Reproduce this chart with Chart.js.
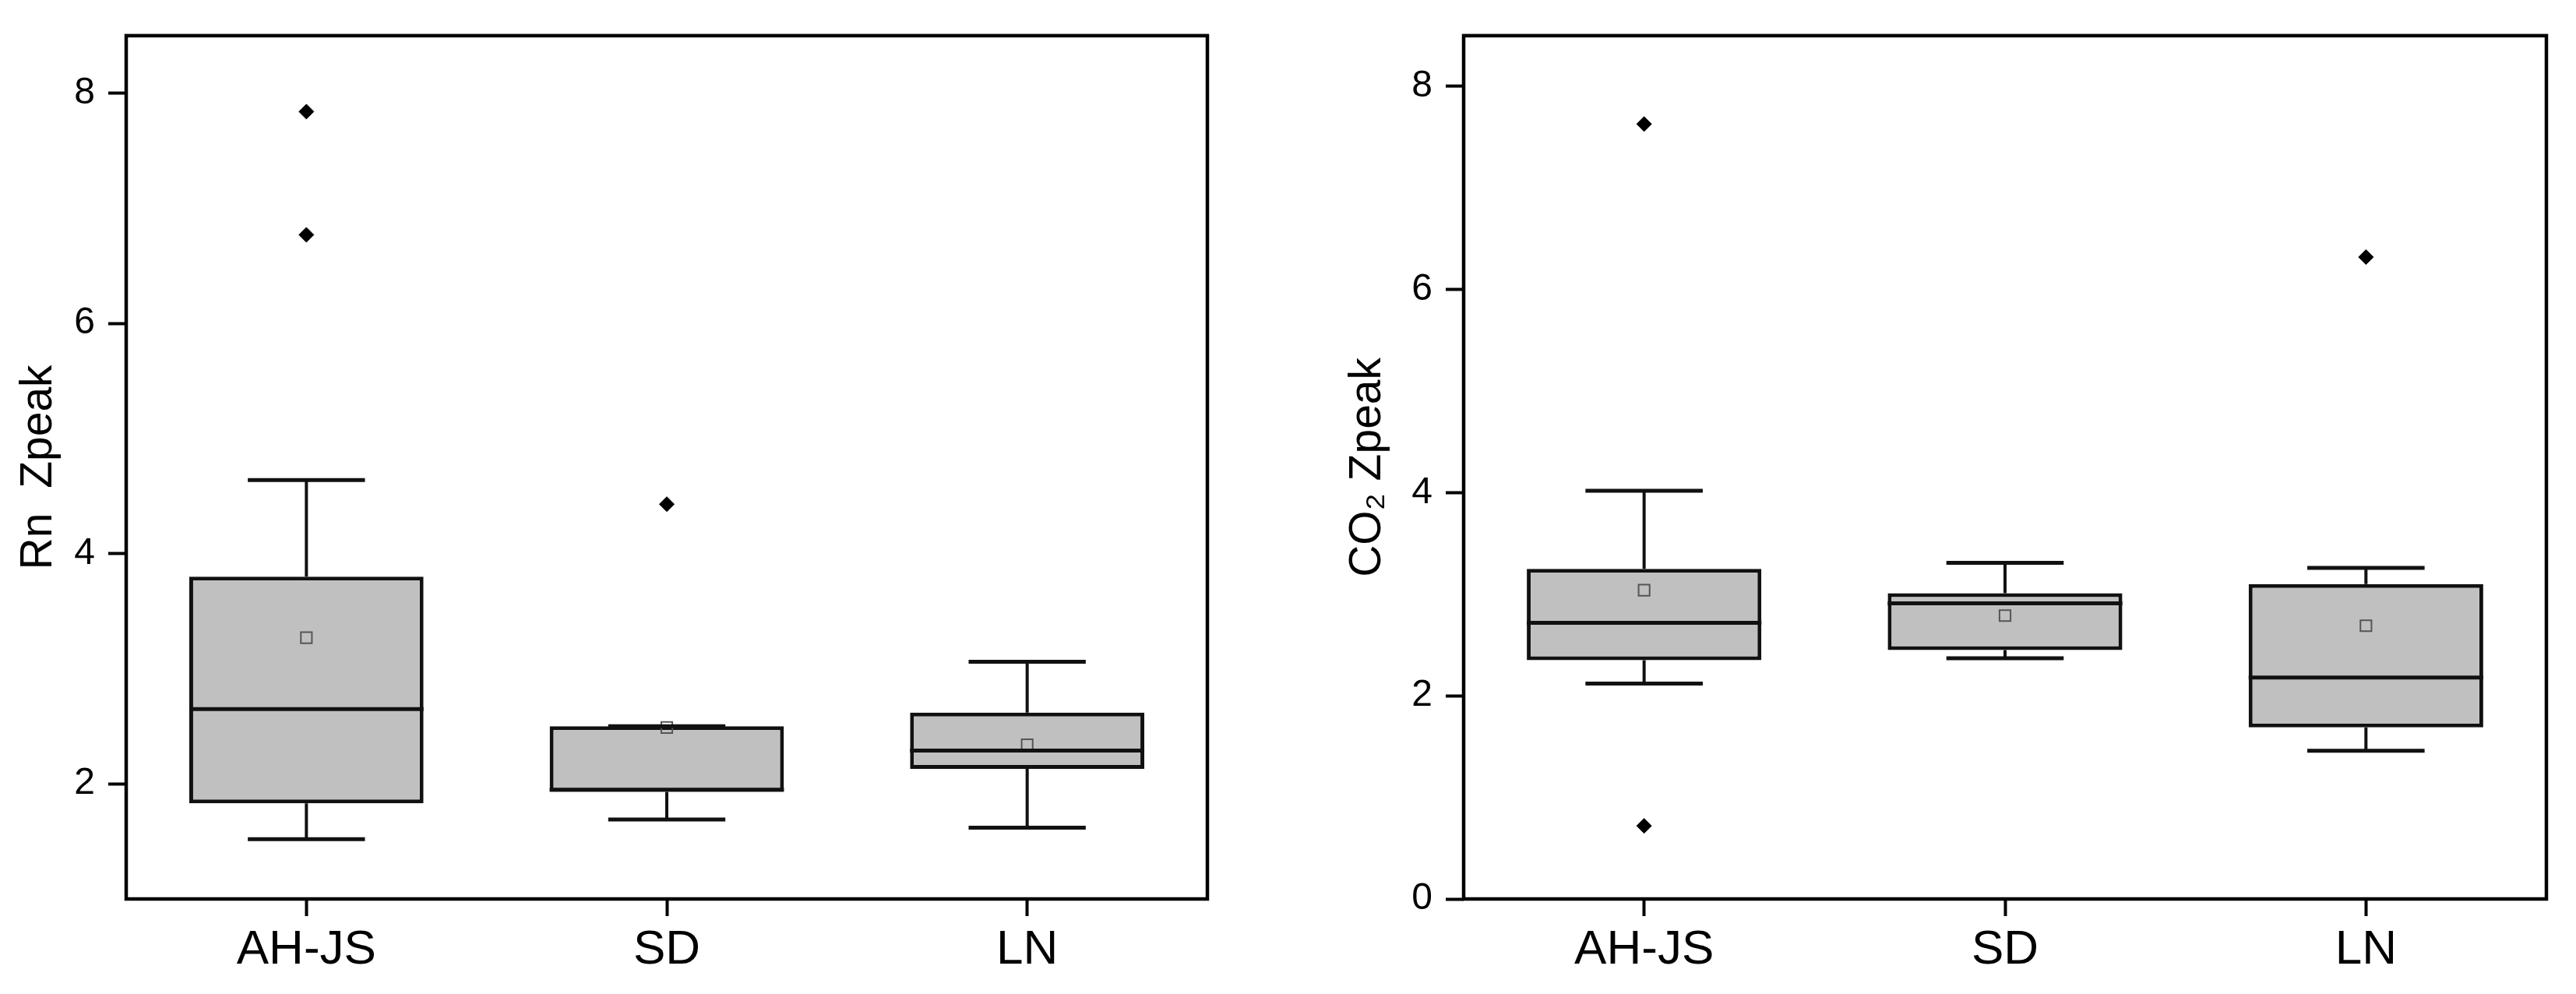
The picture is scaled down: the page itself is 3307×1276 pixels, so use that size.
<!DOCTYPE html>
<html lang="en">
<head>
<meta charset="UTF-8">
<title>Zpeak box plots</title>
<script src="https://cdn.jsdelivr.net/npm/chart.js"></script>
<style>
    html, body { margin: 0; padding: 0; background: #fff; }
    .painel { position: absolute; top: 0; }
    #painel_rn { left: 0; }
    #painel_co2 { left: 1600px; }
</style>
</head>
<body>
    <div id="painel_rn" class="painel"><canvas id="grafico_rn" width="1600" height="1276"></canvas></div>
    <div id="painel_co2" class="painel"><canvas id="grafico_co2" width="1707" height="1276"></canvas></div>
<script>
    // categorias
    var grupos = ['AH-JS', 'SD', 'LN'];

    // Rn Zpeak
    var rnMin = [1.52, 1.69, 1.62];
    var rnQ1 = [1.83, 1.93, 2.13];
    var rnMediana = [2.65, 1.95, 2.29];
    var rnQ3 = [3.80, 2.50, 2.62];
    var rnMax = [4.64, 2.50, 3.06];
    var rnMedia = [3.27, 2.49, 2.34];
    var rnOutliers = [[7.84, 6.77], [4.43], []];
    var rnTicks = [2, 4, 6, 8];

    // CO2 Zpeak
    var coMin = [2.12, 2.37, 1.46];
    var coQ1 = [2.35, 2.45, 1.69];
    var coMediana = [2.72, 2.91, 2.18];
    var coQ3 = [3.25, 3.01, 3.10];
    var coMax = [4.02, 3.31, 3.26];
    var coMedia = [3.04, 2.79, 2.69];
    var coOutliers = [[7.63, 0.72], [], [6.32]];
    var coTicks = [0, 2, 4, 6, 8];

    var fonte = "'Liberation Sans', Arial, sans-serif";

    // desenha bigodes, medianas e moldura usando as escalas do Chart.js
    const partesBox = {
        id: 'partesBox',
        afterDatasetsDraw(chart, args, opts) {
            const ctx = chart.ctx;
            const y = chart.scales.y;
            const meta = chart.getDatasetMeta(0);
            ctx.save();
            ctx.strokeStyle = '#111';
            ctx.lineCap = 'butt';
            for (let i = 0; i < meta.data.length; i++) {
                const bar = meta.data[i];
                const cx = bar.x;
                const w = bar.width;
                const yMin = y.getPixelForValue(opts.min[i]);
                const yMax = y.getPixelForValue(opts.max[i]);
                const yQ1 = y.getPixelForValue(opts.q1[i]);
                const yQ3 = y.getPixelForValue(opts.q3[i]);
                const yMed = y.getPixelForValue(opts.mediana[i]);
                ctx.lineWidth = 4;
                ctx.beginPath();
                ctx.moveTo(cx, yMin); ctx.lineTo(cx, yQ1);
                ctx.moveTo(cx, yQ3); ctx.lineTo(cx, yMax);
                ctx.stroke();
                ctx.lineWidth = 5;
                ctx.beginPath();
                ctx.moveTo(cx - w / 4, yMin); ctx.lineTo(cx + w / 4, yMin);
                ctx.moveTo(cx - w / 4, yMax); ctx.lineTo(cx + w / 4, yMax);
                ctx.moveTo(cx - w / 2, yMed); ctx.lineTo(cx + w / 2, yMed);
                ctx.stroke();
            }
            const a = chart.chartArea;
            ctx.lineWidth = 4.5;
            ctx.strokeStyle = '#000';
            ctx.strokeRect(a.left, a.top, a.right - a.left, a.bottom - a.top);
            ctx.restore();
        }
    };

    function pontosOutliers(lista) {
        var pts = [];
        for (var i = 0; i < grupos.length; i++) {
            for (var j = 0; j < lista[i].length; j++) {
                pts.push({ x: grupos[i], y: lista[i][j] });
            }
        }
        return pts;
    }

    function criarGrafico(id, cfg) {
        var caixas = [];
        for (var i = 0; i < grupos.length; i++) caixas.push([cfg.q1[i], cfg.q3[i]]);
        return new Chart(id, {
            type: 'bar',
            data: {
                labels: grupos,
                datasets: [{
                    data: caixas,
                    backgroundColor: '#c0c0c0',
                    borderColor: '#111',
                    borderWidth: 5,
                    borderSkipped: false,
                    barPercentage: 0.65,
                    categoryPercentage: 1,
                    order: 3
                }, {
                    type: 'line',
                    data: grupos.map(function (g, i) { return { x: g, y: cfg.media[i] }; }),
                    showLine: false,
                    pointStyle: 'rect',
                    pointRadius: 10,
                    pointBorderWidth: 2,
                    pointBorderColor: '#555',
                    pointBackgroundColor: 'rgba(0,0,0,0)',
                    order: 1
                }, {
                    type: 'line',
                    data: pontosOutliers(cfg.outliers),
                    showLine: false,
                    pointStyle: 'rectRot',
                    pointRadius: 9.5,
                    pointBorderWidth: 1,
                    pointBorderColor: '#000',
                    pointBackgroundColor: '#000',
                    order: 2
                }]
            },
            options: {
                responsive: false,
                animation: false,
                layout: { padding: cfg.padding },
                plugins: {
                    legend: { display: false },
                    tooltip: { enabled: false },
                    partesBox: { min: cfg.min, q1: cfg.q1, mediana: cfg.mediana, q3: cfg.q3, max: cfg.max }
                },
                scales: {
                    x: {
                        type: 'category',
                        offset: true,
                        border: { display: false },
                        grid: { offset: false, drawOnChartArea: false, drawTicks: true, tickLength: 22, tickWidth: 4, tickColor: '#000' },
                        ticks: { color: '#000', padding: 7, font: { family: fonte, size: 62 } },
                        afterFit: function (s) { s.height = 122; }
                    },
                    y: {
                        min: cfg.yMin,
                        max: 8.5,
                        border: { display: false },
                        grid: { drawOnChartArea: false, drawTicks: true, tickLength: 23, tickWidth: 4, tickColor: '#000' },
                        ticks: { color: '#000', padding: 17, font: { family: fonte, size: 48 } },
                        afterBuildTicks: function (s) { s.ticks = cfg.ticks.map(function (v) { return { value: v }; }); },
                        afterFit: function (s) { s.width = cfg.larguraY; },
                        title: {
                            display: true,
                            text: cfg.titulo,
                            color: '#000',
                            padding: { top: cfg.tituloPad, bottom: 0 },
                            font: { family: fonte, size: 57 }
                        }
                    }
                }
            },
            plugins: [partesBox]
        });
    }

    criarGrafico('grafico_rn', {
        min: rnMin, q1: rnQ1, mediana: rnMediana, q3: rnQ3, max: rnMax,
        media: rnMedia, outliers: rnOutliers, ticks: rnTicks, yMin: 1,
        titulo: 'Rn  Zpeak', tituloPad: 16, larguraY: 162,
        padding: { left: 0, right: 50, top: 36, bottom: 0 }
    });

    criarGrafico('grafico_co2', {
        min: coMin, q1: coQ1, mediana: coMediana, q3: coQ3, max: coMax,
        media: coMedia, outliers: coOutliers, ticks: coTicks, yMin: 0,
        titulo: 'CO\u2082 Zpeak', tituloPad: 22, larguraY: 179,
        padding: { left: 100, right: 38, top: 36, bottom: 0 }
    });
</script>
</body>
</html>
